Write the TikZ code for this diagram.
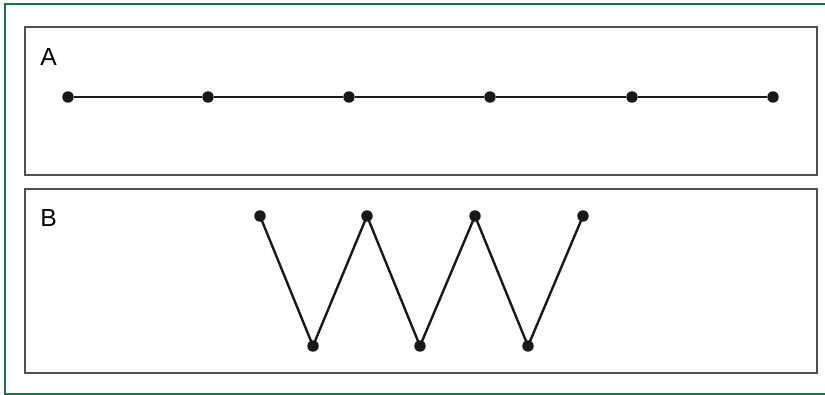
\documentclass[tikz,border=0pt]{standalone}
\usepackage{fontspec}
\setmainfont{Liberation Sans}
\usepackage{xcolor}
\usetikzlibrary{positioning}
\definecolor{framegreen}{RGB}{22,118,68}
\definecolor{panelgray}{RGB}{80,80,80}

\begin{document}
\begin{tikzpicture}[
  x=0.75pt, y=-0.75pt,
  dot/.style={circle, fill=black!90, inner sep=0pt, minimum size=8.6pt},
  panel/.style={draw=panelgray, line width=1.3pt},
  lbl/.style={anchor=base west, inner sep=0pt, font=\fontsize{18.5}{20}\selectfont},
  link/.style={line width=1.8pt, black!90}
]
\useasboundingbox (0,0) rectangle (825,395);
\draw[framegreen, line width=2pt] (826,4) -- (5,4) -- (5,394) -- (826,394);
\draw[panel] (25,27) rectangle (817,175);
\draw[panel] (25,189) rectangle (817,373);
\node[lbl] (labA) at (40,65.5) {A};
\node[lbl] (labB) at (40,227) {B};
\node[dot] (a1) at (68,97) {};
\node[dot] (a2) at (208,97) {};
\node[dot] (a3) at (349,97) {};
\node[dot] (a4) at (490,97) {};
\node[dot] (a5) at (632,97) {};
\node[dot] (a6) at (773,97) {};
\draw[link] (a1) -- (a2) -- (a3) -- (a4) -- (a5) -- (a6);
\node[dot] (b1) at (260,216) {};
\node[dot] (b2) at (313,346) {};
\node[dot] (b3) at (367,216) {};
\node[dot] (b4) at (420,346) {};
\node[dot] (b5) at (475,216) {};
\node[dot] (b6) at (528,346) {};
\node[dot] (b7) at (583,216) {};
\draw[link] (b1.center) -- (b2.center) -- (b3.center) -- (b4.center) -- (b5.center) -- (b6.center) -- (b7.center);
\end{tikzpicture}
\end{document}
